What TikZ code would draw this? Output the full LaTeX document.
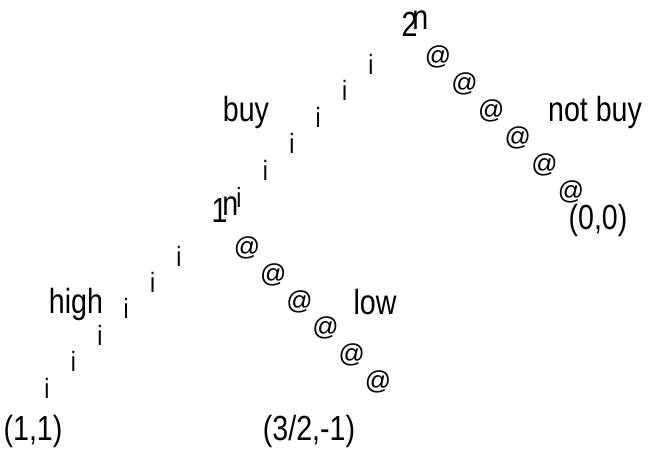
\documentclass[tikz,border=0pt]{standalone}
\usepackage{fontspec}
\setmainfont{Liberation Sans}[FakeStretch=0.82]
\newfontfamily\atfont{Liberation Sans}
\usetikzlibrary{positioning}

\begin{document}
\begin{tikzpicture}[
		x=1bp, y=-1bp,
		lbl/.style={font=\fontsize{35}{35}\selectfont, inner sep=0pt},
		tick/.style={font=\fontsize{28}{28}\selectfont, inner sep=0pt},
		atmark/.style={font=\atfont\fontsize{26}{26}\selectfont, inner sep=0pt},
	]
		\useasboundingbox (0,0) rectangle (653,459);

		% players
		\node[lbl] (pl2) at (415,24) {2\kern-0.15em\raisebox{0.2em}{n}};
		\node[lbl] (pl1) at (225,210) {1\kern-0.15em\raisebox{0.2em}{n}};

		% branches of player 2
		\foreach \k in {0,...,5} {
			\node[tick] (buy\k) at ({371-26.4*\k},{64+26.6*\k}) {i};
			\node[atmark] (nbuy\k) at ({438+26.6*\k},{57+27*\k}) {@};
		}
		% branches of player 1
		\foreach \k in {0,...,5} {
			\node[tick] (high\k) at ({179-26.4*\k},{256+26.4*\k}) {i};
			\node[atmark] (low\k) at ({247+26.2*\k},{248+26.8*\k}) {@};
		}

		\node[lbl] (lbuy) at (246,112) {buy};
		\node[lbl] (lnbuy) at (595,112) {not buy};
		\node[lbl] (lhigh) at (76,304) {high};
		\node[lbl] (llow) at (375,302) {low};

		% payoffs
		\node[lbl] (pay00) at (598,220) {(0,0)};
		\node[lbl] (pay11) at (33,431) {(1,1)};
		\node[lbl] (pay32) at (309,431) {(3/2,-1)};
	\end{tikzpicture}
\end{document}
